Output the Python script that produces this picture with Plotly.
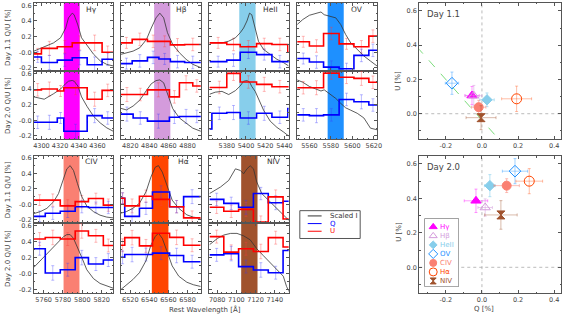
import plotly.graph_objects as go

W, H = 571, 317


def px(x):
    return x / W


def py(y):
    return 1 - y / H


# ------------------------------------------------------------------ data
LINE_NAMES = ["Hγ", "Hβ", "HeII", "OV", "CIV", "Hα", "NIV"]
LINE_COLORS = ["#FF00FF", "#D49BDC", "#87CEEB", "#1E90FF", "#FA8072", "#FF4500", "#A0522D"]

Y_TICKS = [-0.2, 0.0, 0.2, 0.4, 0.6]
Y_TICK_TEXT = ["-0.2", "-0.0", "0.2", "0.4", "0.6"]

# H gamma
HG_RANGE = [4292, 4377]
HG_BAND = [4324, 4341]
HG_WAVE = [4292, 4303, 4313, 4320.5, 4326, 4329, 4333, 4335, 4339, 4343, 4349, 4356, 4363, 4370, 4377]
HG_I_D1 = [0.015, 0.066, 0.12, 0.185, 0.31, 0.44, 0.50, 0.48, 0.35, 0.185, 0.08, -0.027, -0.11, -0.155, -0.175]
HG_I_D2 = [0.30, 0.27, 0.34, 0.40, 0.47, 0.50, 0.51, 0.50, 0.44, 0.30, 0.175, 0.05, -0.033, -0.096, -0.14]
HG_EDGES_D1 = [4292, 4300, 4317, 4333, 4349, 4365, 4377]
HG_Q_D1 = [-0.06, -0.13, -0.10, -0.07, -0.16, -0.09]
HG_U_D1 = [-0.02, 0.05, 0.07, 0.12, 0.12, 0.0]
HG_ERR_D1 = [0.07, 0.09, 0.08, 0.09, 0.10, 0.08]
HG_EDGES_D2 = [4292, 4300, 4317, 4324, 4349, 4365, 4377]
HG_Q_D2 = [-0.025, -0.025, 0.03, -0.14, 0.06, 0.03]
HG_U_D2 = [0.39, 0.40, 0.375, 0.417, 0.27, 0.383]
HG_ERR_D2 = [0.08, 0.09, 0.07, 0.09, 0.09, 0.08]

# H beta
HB_RANGE = [4810, 4894]
HB_BAND = [4845, 4862]
HB_WAVE = [4810, 4816, 4823, 4830, 4837, 4842, 4847, 4851, 4855, 4859, 4864.5, 4871.5, 4878.5, 4885.5, 4894]
HB_I_D1 = [-0.027, -0.006, 0.015, 0.058, 0.164, 0.31, 0.44, 0.50, 0.44, 0.25, 0.10, -0.006, -0.09, -0.154, -0.197]
HB_I_D2 = [0.154, 0.133, 0.183, 0.258, 0.383, 0.467, 0.508, 0.517, 0.48, 0.33, 0.15, 0.03, -0.04, -0.10, -0.14]
HB_EDGES_D1 = [4810, 4822, 4838, 4850, 4862, 4877, 4894]
HB_Q_D1 = [-0.145, -0.11, -0.065, -0.085, -0.12, -0.13]
HB_U_D1 = [0.12, 0.165, 0.14, 0.14, 0.095, 0.10]
HB_ERR_D1 = [0.07, 0.08, 0.08, 0.07, 0.08, 0.08]
HB_EDGES_D2 = [4810, 4823, 4838, 4861, 4871.5, 4885.5, 4894]
HB_Q_D2 = [0.08, 0.03, -0.01, 0.04, 0.05, 0.05]
HB_U_D2 = [0.33, 0.33, 0.39, 0.30, 0.48, 0.44]
HB_ERR_D2 = [0.09, 0.08, 0.09, 0.08, 0.09, 0.08]

# He II
HE_RANGE = [5362, 5444.4]
HE_BAND = [5393, 5410]
HE_WAVE = [5362, 5368, 5375, 5382, 5389, 5394, 5397.5, 5401, 5403.7, 5406, 5409.6, 5413, 5418.3, 5425.2, 5432.2, 5439.2, 5444.4]
HE_I_D1 = [0.121, 0.121, 0.12, 0.142, 0.185, 0.25, 0.31, 0.40, 0.50, 0.48, 0.31, 0.14, 0.036, -0.027, -0.09, -0.133, -0.175]
HE_I_D2 = [0.333, 0.36, 0.37, 0.33, 0.38, 0.44, 0.50, 0.508, 0.49, 0.433, 0.37, 0.27, 0.13, -0.01, -0.09, -0.15, -0.2]
HE_EDGES_D1 = [5362, 5380, 5394, 5411, 5427, 5443.5, 5460]
HE_Q_D1 = [-0.12, -0.10, 0.0, -0.03, -0.12, -0.12]
HE_U_D1 = [0.12, 0.10, 0.07, 0.11, 0.10, 0.0]
HE_ERR_D1 = [0.07, 0.08, 0.08, 0.07, 0.08, 0.08]
HE_EDGES_D2 = [5362, 5364.5, 5380, 5394, 5411, 5427, 5443.5, 5460]
HE_Q_D2 = [-0.11, 0.09, 0.10, 0.03, 0.09, 0.04, 0.15]
HE_U_D2 = [0.42, 0.42, 0.60, 0.49, 0.46, 0.43, 0.43]
HE_ERR_D2 = [0.0, 0.08, 0.09, 0.08, 0.09, 0.08, 0.08]

# O V
OV_RANGE = [5548.6, 5623]
OV_BAND = [5577, 5592]
OV_WAVE = [5548.6, 5553.8, 5560, 5566.2, 5570.8, 5573.8, 5578.5, 5584.6, 5589.2, 5593.8, 5598.5, 5604.6, 5610.8, 5616.9, 5623]
OV_I_D1 = [0.354, 0.418, 0.473, 0.50, 0.515, 0.48, 0.46, 0.44, 0.354, 0.227, 0.12, 0.036, -0.048, -0.112, -0.175]
OV_I_D2 = [0.517, 0.487, 0.433, 0.40, 0.375, 0.39, 0.34, 0.28, 0.217, 0.16, 0.13, 0.09, 0.03, -0.10, -0.12]
OV_EDGES_D1 = [5548.6, 5560, 5573.2, 5587.7, 5601.5, 5615.4, 5623]
OV_Q_D1 = [-0.08, -0.125, -0.19, -0.21, -0.04, 0.025]
OV_U_D1 = [0.134, 0.08, 0.24, 0.108, 0.07, 0.206]
OV_ERR_D1 = [0.07, 0.08, 0.08, 0.07, 0.08, 0.08]
OV_EDGES_D2 = [5548.6, 5560, 5573.2, 5587.7, 5601.5, 5615.4, 5623]
OV_Q_D2 = [0.07, 0.06, 0.07, 0.267, 0.237, 0.196]
OV_U_D2 = [0.417, 0.417, 0.604, 0.55, 0.537, 0.487]
OV_ERR_D2 = [0.08, 0.09, 0.08, 0.08, 0.09, 0.08]

# C IV
CIV_RANGE = [5750, 5832]
CIV_BAND = [5780.6, 5797]
CIV_WAVE = [5749.7, 5756.6, 5763.4, 5770.3, 5775.4, 5780.6, 5784, 5787.4, 5790.9, 5795, 5799.5, 5804.6, 5811.5, 5818.3, 5825.2, 5832]
CIV_I_D1 = [-0.12, -0.094, -0.051, 0.034, 0.14, 0.353, 0.46, 0.502, 0.438, 0.268, 0.098, -0.02, -0.094, -0.14, -0.165, -0.175]
CIV_I_D2 = [0.077, 0.162, 0.247, 0.332, 0.40, 0.46, 0.485, 0.485, 0.438, 0.33, 0.2, 0.05, -0.06, -0.12, -0.15, -0.179]
CIV_EDGES_D1 = [5750, 5761.7, 5777.2, 5792.6, 5806.3, 5821.7, 5832]
CIV_Q_D1 = [-0.155, -0.115, -0.09, -0.03, -0.04, -0.04]
CIV_U_D1 = [0.055, 0.055, -0.02, 0.035, 0.075, -0.01]
CIV_ERR_D1 = [0.07, 0.08, 0.08, 0.08, 0.07, 0.08]
CIV_EDGES_D2 = [5750, 5761.7, 5777.2, 5792.6, 5806.3, 5821.7, 5832]
CIV_Q_D2 = [0.31, 0.01, 0.05, 0.20, 0.12, 0.17]
CIV_U_D2 = [0.43, 0.45, 0.43, 0.53, 0.47, 0.35]
CIV_ERR_D2 = [0.08, 0.09, 0.08, 0.09, 0.08, 0.08]

# H alpha
HA_RANGE = [6510, 6594]
HA_BAND = [6542.6, 6560]
HA_WAVE = [6509.7, 6515.9, 6522.7, 6529.6, 6536.5, 6541.6, 6546.1, 6549.5, 6553.6, 6558.8, 6563.9, 6570.8, 6579.3, 6586.2, 6593.7]
HA_I_D1 = [-0.115, -0.094, -0.051, 0.013, 0.162, 0.353, 0.48, 0.502, 0.417, 0.226, 0.055, -0.051, -0.136, -0.166, -0.179]
HA_I_D2 = [-0.2, -0.136, -0.072, 0.013, 0.162, 0.353, 0.46, 0.502, 0.438, 0.268, 0.098, -0.03, -0.105, -0.136, -0.157]
HA_EDGES_D1 = [6509.7, 6514.2, 6529.6, 6543.3, 6561.2, 6575.9, 6593.7]
HA_Q_D1 = [0.08, -0.155, -0.05, 0.16, -0.03, 0.10]
HA_U_D1 = [0.08, -0.02, 0.105, 0.065, -0.03, -0.175]
HA_ERR_D1 = [0.07, 0.09, 0.08, 0.08, 0.08, 0.09]
HA_EDGES_D2 = [6509.7, 6514.2, 6529.6, 6543.3, 6561.2, 6575.9, 6593.7]
HA_Q_D2 = [0.204, 0.238, 0.238, 0.255, 0.226, 0.149]
HA_U_D2 = [0.353, 0.447, 0.345, 0.502, 0.451, 0.353]
HA_ERR_D2 = [0.08, 0.09, 0.08, 0.08, 0.09, 0.08]

# N IV
NIV_RANGE = [7072, 7154.4]
NIV_BAND = [7105, 7122]
NIV_WAVE_D1 = [7072, 7083.5, 7092, 7099, 7104, 7107.5, 7111, 7114.4, 7117.8, 7121.2, 7126.4, 7133.3, 7138.5, 7145.4, 7152.2, 7155.7]
NIV_I_D1 = [0.14, 0.225, 0.31, 0.46, 0.44, 0.396, 0.46, 0.50, 0.46, 0.29, 0.14, 0.055, -0.008, -0.09, -0.18, -0.22]
NIV_WAVE_D2 = [7072, 7080.6, 7087, 7094, 7100.6, 7107.5, 7114.4, 7121.2, 7128, 7135, 7140, 7145.4, 7148.8, 7152.2, 7155.7]
NIV_I_D2 = [0.36, 0.44, 0.48, 0.50, 0.50, 0.47, 0.42, 0.31, 0.225, 0.14, 0.077, 0.013, -0.03, -0.157, -0.24]
NIV_EDGES_D1 = [7072, 7086.9, 7102.3, 7117.7, 7133.2, 7148.6, 7165]
NIV_Q_D1 = [0.064, 0.013, -0.038, 0.14, 0.021, 0.04]
NIV_U_D1 = [-0.038, -0.09, -0.065, -0.23, 0.097, -0.19]
NIV_ERR_D1 = [0.08, 0.08, 0.09, 0.08, 0.09, 0.08]
NIV_EDGES_D2 = [7072, 7086.9, 7102.3, 7117.7, 7133.2, 7148.6, 7165]
NIV_Q_D2 = [0.234, 0.25, 0.089, 0.047, 0.013, 0.289]
NIV_U_D2 = [0.46, 0.268, 0.31, 0.276, 0.447, 0.332]
NIV_ERR_D2 = [0.08, 0.09, 0.08, 0.09, 0.08, 0.08]

# Q-U plane (order: Hγ, Hβ, HeII, OV, CIV, Hα, NIV)
SC_Q_D1 = [-0.055, -0.045, 0.028, -0.166, -0.018, 0.192, -0.005]
SC_U_D1 = [0.106, 0.105, 0.081, 0.178, 0.038, 0.087, -0.023]
SC_QERR_D1 = [0.04, 0.045, 0.04, 0.037, 0.04, 0.083, 0.083]
SC_UERR_D1 = [0.053, 0.06, 0.04, 0.065, 0.04, 0.074, 0.07]
SC_Q_D2 = [-0.033, 0.018, 0.044, 0.183, 0.137, 0.262, 0.105]
SC_U_D2 = [0.386, 0.347, 0.474, 0.558, 0.474, 0.50, 0.304]
SC_QERR_D2 = [0.065, 0.04, 0.03, 0.07, 0.07, 0.074, 0.09]
SC_UERR_D2 = [0.068, 0.05, 0.064, 0.073, 0.04, 0.073, 0.083]
FIT_Q_D1 = [-0.36, 0.17]
FIT_U_D1 = [0.39, -0.24]

SC_X_TICKS = [-0.2, 0.0, 0.2, 0.4]
SC_Y_TICKS = [0.0, 0.2, 0.4, 0.6]

# ------------------------------------------------------------------ structure
panels = [
    dict(rng=HG_RANGE, band=HG_BAND, w=[HG_WAVE, HG_WAVE], i=[HG_I_D1, HG_I_D2], e=[HG_EDGES_D1, HG_EDGES_D2],
         q=[HG_Q_D1, HG_Q_D2], u=[HG_U_D1, HG_U_D2], err=[HG_ERR_D1, HG_ERR_D2]),
    dict(rng=HB_RANGE, band=HB_BAND, w=[HB_WAVE, HB_WAVE], i=[HB_I_D1, HB_I_D2], e=[HB_EDGES_D1, HB_EDGES_D2],
         q=[HB_Q_D1, HB_Q_D2], u=[HB_U_D1, HB_U_D2], err=[HB_ERR_D1, HB_ERR_D2]),
    dict(rng=HE_RANGE, band=HE_BAND, w=[HE_WAVE, HE_WAVE], i=[HE_I_D1, HE_I_D2], e=[HE_EDGES_D1, HE_EDGES_D2],
         q=[HE_Q_D1, HE_Q_D2], u=[HE_U_D1, HE_U_D2], err=[HE_ERR_D1, HE_ERR_D2]),
    dict(rng=OV_RANGE, band=OV_BAND, w=[OV_WAVE, OV_WAVE], i=[OV_I_D1, OV_I_D2], e=[OV_EDGES_D1, OV_EDGES_D2],
         q=[OV_Q_D1, OV_Q_D2], u=[OV_U_D1, OV_U_D2], err=[OV_ERR_D1, OV_ERR_D2]),
    dict(rng=CIV_RANGE, band=CIV_BAND, w=[CIV_WAVE, CIV_WAVE], i=[CIV_I_D1, CIV_I_D2], e=[CIV_EDGES_D1, CIV_EDGES_D2],
         q=[CIV_Q_D1, CIV_Q_D2], u=[CIV_U_D1, CIV_U_D2], err=[CIV_ERR_D1, CIV_ERR_D2]),
    dict(rng=HA_RANGE, band=HA_BAND, w=[HA_WAVE, HA_WAVE], i=[HA_I_D1, HA_I_D2], e=[HA_EDGES_D1, HA_EDGES_D2],
         q=[HA_Q_D1, HA_Q_D2], u=[HA_U_D1, HA_U_D2], err=[HA_ERR_D1, HA_ERR_D2]),
    dict(rng=NIV_RANGE, band=NIV_BAND, w=[NIV_WAVE_D1, NIV_WAVE_D2], i=[NIV_I_D1, NIV_I_D2],
         e=[NIV_EDGES_D1, NIV_EDGES_D2], q=[NIV_Q_D1, NIV_Q_D2], u=[NIV_U_D1, NIV_U_D2], err=[NIV_ERR_D1, NIV_ERR_D2]),
]

COL_X = [(33.3, 113.5), (121, 202), (210.7, 290.7), (299.3, 380)]
ROW_Y = [((2, 70.5), (70.5, 139)), ((155.7, 223.3), (223.3, 294))]
LABEL_X = [84, 175, 263, 352, 83, 177, 267]
LABEL_Y = [9, 162]

AX = "#555555"
FONT = "DejaVu Sans"
TICKFONT = dict(family=FONT, size=6.5, color="#444444")

fig = go.Figure()
layout = {}
shapes = []
annotations = []


def ax_names(n):
    return ("x" if n == 1 else f"x{n}", "y" if n == 1 else f"y{n}",
            "xaxis" if n == 1 else f"xaxis{n}", "yaxis" if n == 1 else f"yaxis{n}")


for k, p in enumerate(panels):
    row = 0 if k < 4 else 1
    col = k if k < 4 else k - 4
    cx0, cx1 = COL_X[col]
    for d in range(2):
        n = 2 * k + d + 1
        xa, ya, xkey, ykey = ax_names(n)
        y0, y1 = ROW_Y[row][d]
        layout[xkey] = dict(
            domain=[px(cx0), px(cx1)], range=p["rng"], anchor=ya,
            showline=True, linecolor=AX, linewidth=1, mirror="ticks",
            ticks="inside", ticklen=3, tickcolor=AX, tick0=0, dtick=20, tickangle=0,
            showticklabels=(d == 1), tickfont=TICKFONT,
            showgrid=False, zeroline=False,
            minor=dict(ticks="inside", ticklen=1.5, dtick=5, tick0=0, tickcolor=AX, showgrid=False),
        )
        layout[ykey] = dict(
            domain=[py(y1), py(y0)], range=[-0.24, 0.63], anchor=xa,
            showline=True, linecolor=AX, linewidth=1, mirror="ticks",
            ticks="inside", ticklen=3, tickcolor=AX,
            tickmode="array", tickvals=Y_TICKS, ticktext=Y_TICK_TEXT,
            showticklabels=(col == 0), tickfont=TICKFONT,
            showgrid=False, zeroline=False,
            minor=dict(ticks="inside", ticklen=1.5, tickvals=[-0.1, 0.1, 0.3, 0.5], tickcolor=AX, showgrid=False),
        )
        shapes.append(dict(type="rect", xref=xa, yref=f"{ya} domain", x0=p["band"][0], x1=p["band"][1],
                           y0=0, y1=1, fillcolor=LINE_COLORS[k], line=dict(width=0), layer="below"))

        edges = p["e"][d]
        centers = [(edges[j] + edges[j + 1]) / 2 for j in range(len(edges) - 1)]
        qv, uv, ev = p["q"][d], p["u"][d], p["err"][d]
        fig.add_trace(go.Scatter(x=centers, y=uv, mode="markers", xaxis=xa, yaxis=ya,
                                 marker=dict(size=1, color="rgba(0,0,0,0)"),
                                 error_y=dict(type="data", array=ev, color="rgba(255,60,60,0.35)", thickness=1, width=1.5),
                                 showlegend=False, hoverinfo="skip"))
        fig.add_trace(go.Scatter(x=centers, y=qv, mode="markers", xaxis=xa, yaxis=ya,
                                 marker=dict(size=1, color="rgba(0,0,0,0)"),
                                 error_y=dict(type="data", array=ev, color="rgba(60,60,255,0.35)", thickness=1, width=1.5),
                                 showlegend=False, hoverinfo="skip"))
        fig.add_trace(go.Scatter(x=p["w"][d], y=p["i"][d], mode="lines", xaxis=xa, yaxis=ya,
                                 line=dict(color="#333333", width=0.8), showlegend=False))
        fig.add_trace(go.Scatter(x=edges, y=qv + [qv[-1]], mode="lines", line_shape="hv", xaxis=xa, yaxis=ya,
                                 line=dict(color="#0000FF", width=1.6), showlegend=False))
        fig.add_trace(go.Scatter(x=edges, y=uv + [uv[-1]], mode="lines", line_shape="hv", xaxis=xa, yaxis=ya,
                                 line=dict(color="#FF0000", width=1.6), showlegend=False))
    annotations.append(dict(text=LINE_NAMES[k], xref="paper", yref="paper", x=px(LABEL_X[k]), y=py(LABEL_Y[row]),
                            xanchor="left", yanchor="middle", showarrow=False,
                            font=dict(family=FONT, size=7.5, color="#333333")))

# y-axis titles of the spectral grid
for row in range(2):
    for d, lab in enumerate(["Day 1.1 Q/U [%]", "Day 2.0 Q/U [%]"]):
        y0, y1 = ROW_Y[row][d]
        annotations.append(dict(text=lab, xref="paper", yref="paper", x=px(7), y=py((y0 + y1) / 2),
                                textangle=-90, showarrow=False, xanchor="center", yanchor="middle",
                                font=dict(family=FONT, size=7, color="#444444")))
annotations.append(dict(text="Rest Wavelength [Å]", xref="paper", yref="paper", x=px(206), y=py(310),
                        showarrow=False, xanchor="center", yanchor="middle",
                        font=dict(family=FONT, size=7, color="#444444")))

# spectral legend box
shapes.append(dict(type="rect", xref="paper", yref="paper", x0=px(302), x1=px(363), y0=py(239), y1=py(211),
                   line=dict(color=AX, width=1), fillcolor="white", layer="below"))
for j, (lab, colr) in enumerate([("Scaled I", "#333333"), ("Q", "#0000FF"), ("U", "#FF0000")]):
    yy = 216.3 + 7.7 * j
    shapes.append(dict(type="line", xref="paper", yref="paper", x0=px(310), x1=px(324), y0=py(yy), y1=py(yy),
                       line=dict(color=colr, width=1)))
    annotations.append(dict(text=lab, xref="paper", yref="paper", x=px(330), y=py(yy), xanchor="left",
                            yanchor="middle", showarrow=False, font=dict(family=FONT, size=7, color=colr)))

# ------------------------------------------------------------------ Q-U panels
SYMBOLS = ["triangle-up", "triangle-up-open", "diamond", "diamond-open", "circle", "circle-open", "hourglass"]
SIZES = [9, 9, 8, 9, 9, 10, 8]
ERR_COLORS = ["rgba(255,0,255,0.4)", "rgba(212,155,220,0.5)", "rgba(135,206,235,0.6)", "rgba(30,144,255,0.4)",
              "rgba(250,128,114,0.5)", "rgba(255,69,0,0.35)", "rgba(160,82,45,0.4)"]
SC_Y = [(2, 139.3), (156, 294)]
sc_data = [(SC_Q_D1, SC_U_D1, SC_QERR_D1, SC_UERR_D1), (SC_Q_D2, SC_U_D2, SC_QERR_D2, SC_UERR_D2)]

for d in range(2):
    n = 15 + d
    xa, ya, xkey, ykey = ax_names(n)
    y0, y1 = SC_Y[d]
    layout[xkey] = dict(
        domain=[px(422.7), px(566)], range=[-0.347, 0.438], anchor=ya,
        showline=True, linecolor=AX, linewidth=1, mirror="ticks",
        ticks="inside", ticklen=3, tickcolor=AX, tickangle=0,
        tickmode="array", tickvals=SC_X_TICKS, ticktext=["-0.2", "0.0", "0.2", "0.4"],
        tickfont=TICKFONT, showgrid=False, zeroline=False,
        minor=dict(ticks="inside", ticklen=1.5, tickvals=[-0.3, -0.1, 0.1, 0.3], tickcolor=AX, showgrid=False),
    )
    layout[ykey] = dict(
        domain=[py(y1), py(y0)], range=[-0.15, 0.646], anchor=xa,
        showline=True, linecolor=AX, linewidth=1, mirror="ticks",
        ticks="inside", ticklen=3, tickcolor=AX,
        tickmode="array", tickvals=SC_Y_TICKS, ticktext=["0.0", "0.2", "0.4", "0.6"],
        tickfont=TICKFONT, showgrid=False, zeroline=False,
        minor=dict(ticks="inside", ticklen=1.5, tickvals=[-0.1, 0.1, 0.3, 0.5], tickcolor=AX, showgrid=False),
    )
    shapes.append(dict(type="line", xref=xa, yref=f"{ya} domain", x0=0, x1=0, y0=0, y1=1,
                       line=dict(color="#AAAAAA", width=0.8, dash="dot"), layer="below"))
    shapes.append(dict(type="line", xref=f"{xa} domain", yref=ya, x0=0, x1=1, y0=0, y1=0,
                       line=dict(color="#AAAAAA", width=0.8, dash="dot"), layer="below"))
    if d == 0:
        fig.add_trace(go.Scatter(x=FIT_Q_D1, y=FIT_U_D1, mode="lines", xaxis=xa, yaxis=ya,
                                 line=dict(color="#7CDC7C", width=1, dash="dash"), showlegend=False))
    qs, us, qe, ue = sc_data[d]
    for k in range(7):
        fig.add_trace(go.Scatter(
            x=[qs[k]], y=[us[k]], mode="markers", xaxis=xa, yaxis=ya,
            marker=dict(symbol=SYMBOLS[k], size=SIZES[k], color=LINE_COLORS[k],
                        line=dict(color=LINE_COLORS[k], width=1)),
            error_x=dict(type="data", array=[qe[k]], color=ERR_COLORS[k], thickness=1, width=1.5),
            error_y=dict(type="data", array=[ue[k]], color=ERR_COLORS[k], thickness=1, width=1.5),
            showlegend=False))
    annotations.append(dict(text=["Day 1.1", "Day 2.0"][d], xref="paper", yref="paper", x=px(429),
                            y=py(y0 + 11), xanchor="left", yanchor="middle", showarrow=False,
                            font=dict(family=FONT, size=8.5, color="#444444")))
    annotations.append(dict(text="U [%]", xref="paper", yref="paper", x=px(401.5), y=py([80, 232][d]),
                            textangle=-90, showarrow=False, xanchor="center", yanchor="middle",
                            font=dict(family=FONT, size=7, color="#444444")))
annotations.append(dict(text="Q [%]", xref="paper", yref="paper", x=px(488), y=py(310), showarrow=False,
                        xanchor="center", yanchor="middle", font=dict(family=FONT, size=7, color="#444444")))

# marker legend inside the Day 2.0 panel
LG_X0, LG_X1, LG_Y0, LG_Y1 = 428.3, 462.3, 219, 287.3
shapes.append(dict(type="rect", xref="paper", yref="paper", x0=px(LG_X0), x1=px(LG_X1), y0=py(LG_Y1), y1=py(LG_Y0),
                   line=dict(color=AX, width=1), fillcolor="white", layer="below"))
layout["xaxis17"] = dict(domain=[px(LG_X0), px(LG_X1)], range=[0, 1], visible=False, anchor="y17", fixedrange=True)
layout["yaxis17"] = dict(domain=[py(LG_Y1), py(LG_Y0)], range=[0, 1], visible=False, anchor="x17", fixedrange=True)
for k in range(7):
    yy = LG_Y0 + 8.3 + 9.07 * k
    fig.add_trace(go.Scatter(x=[0.25], y=[(LG_Y1 - yy) / (LG_Y1 - LG_Y0)], mode="markers", xaxis="x17", yaxis="y17",
                             marker=dict(symbol=SYMBOLS[k], size=SIZES[k] - 2, color=LINE_COLORS[k],
                                         line=dict(color=LINE_COLORS[k], width=1)),
                             showlegend=False, hoverinfo="skip"))
    annotations.append(dict(text=LINE_NAMES[k], xref="paper", yref="paper", x=px(441.7), y=py(yy),
                            xanchor="left", yanchor="middle", showarrow=False,
                            font=dict(family=FONT, size=7, color=LINE_COLORS[k])))

fig.update_layout(
    width=W, height=H, autosize=False,
    margin=dict(l=0, r=0, t=0, b=0),
    paper_bgcolor="white", plot_bgcolor="white",
    showlegend=False,
    shapes=shapes, annotations=annotations,
    **layout,
)

fig.write_html("out.html", config={"displayModeBar": False},
               post_script="document.body.style.margin='0';document.body.style.padding='0';")
